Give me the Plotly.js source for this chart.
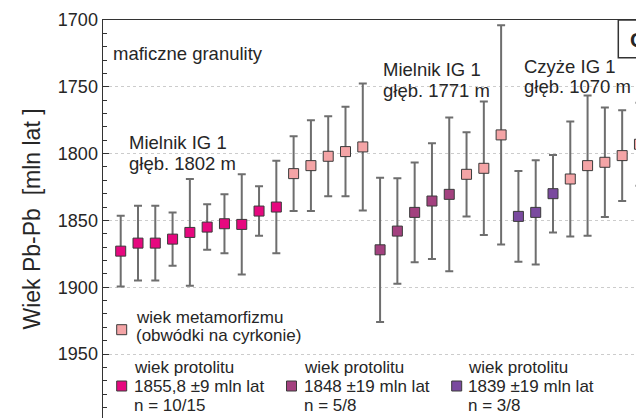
<!DOCTYPE html>
<html>
<head>
<meta charset="utf-8">
<script src="https://cdn.plot.ly/plotly-3.0.1.min.js"></script>
<style>html,body{margin:0;padding:0;background:#fff;overflow:hidden}#chart{width:636px;height:418px}</style>
</head>
<body>
<div id="chart"></div>
<script>
// ---- data (ages in Ma) ----
const protolith1X = [1,2,3,4,5,6,7,8,9,10];
const protolith1Y = [1873,1867,1867,1864,1859,1855,1852.5,1853,1843,1840];
const protolith1Err = [26.5,28,28,20,40,17,22,37.5,18.5,34.6];

const metaX = [11,12,13,14,15,21,22,23,27,28,29,30,31];
const metaY = [1815,1809,1802,1798.5,1795,1815.5,1811,1786,1819,1809,1806.5,1801.5,1793];
const metaErr = [28,34,30,33.5,47.5,31.5,50,82,43,52.5,41,34,31];

const protolith2X = [16,17,18,19,20];
const protolith2Y = [1872,1858,1844,1835.5,1830.5];
const protolith2Err = [54,39.5,37.3,43.3,57.5];

const protolith3X = [24,25,26];
const protolith3Y = [1847,1844,1830];
const protolith3Err = [34,39,29];

const yTicks = [1700,1750,1800,1850,1900,1950];
const seriesNames = ['wiek protolitu 1855,8 ±9 mln lat','wiek metamorfizmu','wiek protolitu 1848 ±19 mln lat','wiek protolitu 1839 ±19 mln lat'];

// ---- styling ----
const FONT = 'Liberation Sans, Arial, Helvetica, sans-serif';
const TXT = '#262626';
const C1 = '#e6087f', CM = '#f4a4a6', C2 = '#a3417f', C3 = '#7a4a9f';
const L = 103, T = 20, W = 533, H = 398;
const px = p => (p - L) / W;
const py = p => 1 - (p - T) / H;

function trace(x, y, e, color, name) {
  return {
    type: 'scatter', mode: 'markers', x: x, y: y, name: name, showlegend: false,
    marker: {symbol: 'square', size: 10, color: color, line: {color: '#3a3a3a', width: 1}},
    error_y: {type: 'data', array: e, visible: true, color: '#6e6e6e', thickness: 2, width: 4},
    hoverinfo: 'x+y'
  };
}
const data = [
  trace(protolith1X, protolith1Y, protolith1Err, C1, seriesNames[0]),
  trace(metaX, metaY, metaErr, CM, seriesNames[1]),
  trace(protolith2X, protolith2Y, protolith2Err, C2, seriesNames[2]),
  trace(protolith3X, protolith3Y, protolith3Err, C3, seriesNames[3])
];

function txt(text, x, baseline, size, extra) {
  return Object.assign({
    text: text, xref: 'paper', yref: 'paper', x: px(x - 1), y: py(baseline - 0.35 * size),
    xanchor: 'left', yanchor: 'middle', showarrow: false,
    font: {family: FONT, size: size, color: TXT}
  }, extra || {});
}
const annotations = [
  txt('maficzne granulity', 112, 60, 18.5),
  txt('Mielnik IG 1', 128.3, 149.3, 18.5),
  txt('głęb. 1802 m', 128.3, 169.5, 18.5),
  txt('Mielnik IG 1', 381.7, 76, 18.5),
  txt('głęb. 1771 m', 381.7, 97, 18.5),
  txt('Czyże IG 1', 522.7, 72.7, 18.5),
  txt('głęb. 1070 m', 522.7, 93, 18.5),
  txt('<b>C</b>', 629, 46.7, 21),
  txt('wiek metamorfizmu', 135, 323.3, 17),
  txt('(obwódki na cyrkonie)', 135, 341.7, 17),
  txt('wiek protolitu', 133, 373.3, 17),
  txt('1855,8 ±9 mln lat', 133, 392.7, 17),
  txt('n = 10/15', 133, 411, 17),
  txt('wiek protolitu', 302.7, 373.3, 17),
  txt('1848 ±19 mln lat', 302.7, 392.7, 17),
  txt('n = 5/8', 302.7, 411, 17),
  txt('wiek protolitu', 466.7, 373.3, 17),
  txt('1839 ±19 mln lat', 466.7, 392.7, 17),
  txt('n = 3/8', 466.7, 411, 17)
];
function sq(cx, cy, color) {
  return {type: 'rect', xref: 'paper', yref: 'paper', x0: px(cx - 5), x1: px(cx + 5), y0: py(cy + 5), y1: py(cy - 5),
    fillcolor: color, line: {color: '#3a3a3a', width: 1}};
}
const shapes = [
  sq(121.7, 329.7, CM), sq(121.7, 386, C1), sq(291.5, 386, C2), sq(456.7, 386, C3),
  {type: 'rect', xref: 'paper', yref: 'paper', x0: px(618.3), x1: px(700), y0: py(57.7), y1: py(20),
   fillcolor: 'rgba(0,0,0,0)', line: {color: '#333', width: 1.5}, layer: 'above'}
];

const layout = {
  width: 636, height: 418,
  margin: {l: L, r: 0, t: T, b: 0, pad: 0},
  paper_bgcolor: '#fff', plot_bgcolor: '#fff',
  font: {family: FONT, color: TXT},
  showlegend: false,
  xaxis: {
    range: [-0.024, 30.80], side: 'top', showline: true, linecolor: '#333', linewidth: 1.5,
    showticklabels: false, ticks: '', showgrid: false, zeroline: false, automargin: false
  },
  yaxis: {
    range: [1997.9, 1700], tickvals: yTicks, showline: true, linecolor: '#333', linewidth: 1.5,
    ticks: 'inside', ticklen: 6, tickwidth: 1, tickcolor: '#333',
    minor: {dtick: 10, tick0: 1700, ticks: 'inside', ticklen: 4, tickwidth: 1, tickcolor: '#333', showgrid: false},
    showgrid: true, gridcolor: '#cccccc', griddash: 'dot', gridwidth: 1, zeroline: false,
    tickfont: {family: FONT, size: 18, color: TXT}, automargin: false,
    title: {text: 'Wiek Pb-Pb\u00a0\u00a0[mln lat\u00a0]\u00a0\u00a0\u00a0', font: {family: FONT, size: 23, color: TXT}, standoff: 11}
  },
  annotations: annotations,
  shapes: shapes
};
Plotly.newPlot('chart', data, layout, {displayModeBar: false, staticPlot: true});
</script>
</body>
</html>
